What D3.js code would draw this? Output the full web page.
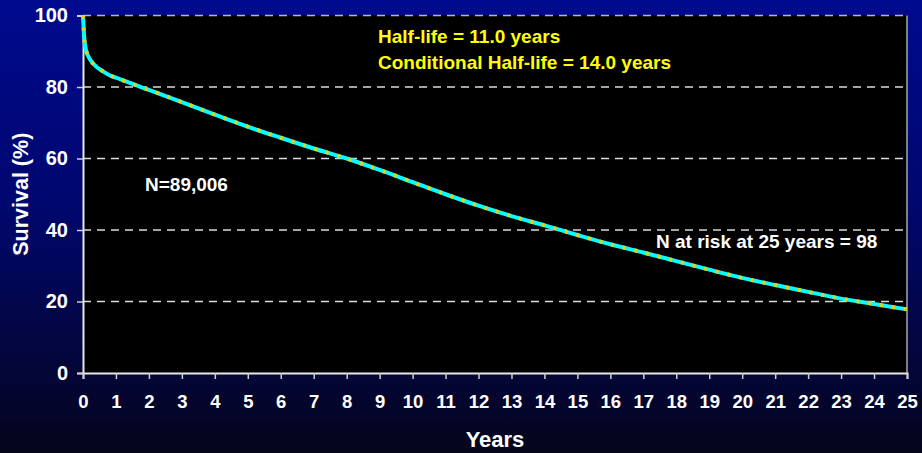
<!DOCTYPE html>
<html lang="en">
<head>
    <meta charset="UTF-8">
    <title>Survival</title>
    <script src="https://d3js.org/d3.v7.min.js"></script>
    <style>
        body { margin: 0; background: #000; }
        text { font-family: "Liberation Sans", Arial, sans-serif; font-weight: bold; }
    </style>
</head>
<body>
    <svg id="chart" width="922" height="453"></svg>
    <script>
        // Kaplan-Meier curve
        const years = [0, 0.04, 0.1, 0.15, 0.22, 0.4, 0.6, 0.82, 1, 1.4, 2, 3, 4, 5, 6, 7, 8, 9, 10, 11, 12, 13, 14, 15, 16, 17, 18, 19, 20, 21, 22, 23, 24, 25];
        const survival = [100, 93.5, 90, 88.8, 87.6, 85.7, 84.4, 83.2, 82.6, 81.2, 79.2, 75.8, 72.3, 68.9, 65.8, 62.8, 60.0, 56.8, 53.4, 50.0, 46.8, 43.9, 41.3, 38.6, 36.0, 33.7, 31.3, 28.9, 26.6, 24.6, 22.7, 20.8, 19.3, 17.8];
        const xTicks = d3.range(0, 26);
        const yTicks = [0, 20, 40, 60, 80, 100];
        const notes = ["Half-life = 11.0 years", "Conditional Half-life = 14.0 years"];

        const svg = d3.select("#chart");
        const W = 922, H = 453;
        const m = { left: 83, right: 15, top: 15.5, bottom: 80 };

        const defs = svg.append("defs");
        const grad = defs.append("linearGradient").attr("id", "bg")
            .attr("x1", 0).attr("y1", 0).attr("x2", 0).attr("y2", 1);
        grad.append("stop").attr("offset", 0).attr("stop-color", "#000a8e");
        grad.append("stop").attr("offset", 0.45).attr("stop-color", "#00076e");
        grad.append("stop").attr("offset", 1).attr("stop-color", "#05051c");
        svg.append("rect").attr("width", W).attr("height", H).attr("fill", "url(#bg)");

        const x = d3.scaleLinear().domain([0, 25]).range([m.left, W - m.right]);
        const y = d3.scaleLinear().domain([0, 100]).range([H - m.bottom, m.top]);

        // plot area
        svg.append("rect")
            .attr("x", x(0)).attr("y", y(100))
            .attr("width", x(25) - x(0)).attr("height", y(0) - y(100))
            .attr("fill", "#000");

        // dashed gridlines
        svg.append("g").selectAll("line")
            .data(yTicks.filter(d => d > 0))
            .join("line")
            .attr("x1", x(0)).attr("x2", x(25))
            .attr("y1", d => y(d)).attr("y2", d => y(d))
            .attr("stroke", d => d === 100 ? "#b8b8b8" : "#dcdcdc")
            .attr("stroke-width", 1.5)
            .attr("stroke-dasharray", "8,6");

        // right border
        svg.append("line")
            .attr("x1", x(25)).attr("x2", x(25))
            .attr("y1", y(100)).attr("y2", y(0))
            .attr("stroke", "#a8a8a8").attr("stroke-width", 1.5);

        // axes
        const yAxis = svg.append("g")
            .attr("transform", `translate(${x(0)},0)`)
            .call(d3.axisLeft(y).tickValues(yTicks).tickSize(6).tickPadding(9));
        const xAxis = svg.append("g")
            .attr("transform", `translate(0,${y(0)})`)
            .call(d3.axisBottom(x).tickValues(xTicks).tickSize(6).tickPadding(16));

        [yAxis, xAxis].forEach(g => {
            g.select(".domain").attr("stroke", "#e8e8e8").attr("stroke-width", 2);
            g.selectAll(".tick line").attr("stroke", "#cfcfcf").attr("stroke-width", 1.5);
            g.selectAll("text").attr("fill", "#fff").attr("font-family", "Liberation Sans, Arial, sans-serif")
                .attr("font-weight", "bold");
        });
        yAxis.selectAll("text").attr("font-size", 20);
        xAxis.selectAll("text").attr("font-size", 18.5);

        // survival curve
        const pts = years.map((t, i) => [t, survival[i]]);
        const line = d3.line().x(d => x(d[0])).y(d => y(d[1])).curve(d3.curveMonotoneX);
        svg.append("path").datum(pts).attr("d", line)
            .attr("fill", "none").attr("stroke", "#00ffff").attr("stroke-width", 4);
        svg.append("path").datum(pts).attr("d", line)
            .attr("fill", "none").attr("stroke", "#ffcc00").attr("stroke-width", 4)
            .attr("stroke-dasharray", "3,9").attr("opacity", 0.9);

        // annotations
        svg.selectAll(".note").data(notes).join("text")
            .attr("class", "note")
            .attr("x", 378).attr("y", (d, i) => 43 + i * 26)
            .attr("fill", "#ffff00").attr("font-size", 19)
            .text(d => d);
        svg.append("text").attr("x", 145).attr("y", 191)
            .attr("fill", "#fff").attr("font-size", 19).text("N=89,006");
        svg.append("text").attr("x", 656).attr("y", 248)
            .attr("fill", "#fff").attr("font-size", 19).text("N at risk at 25 years = 98");

        // axis titles
        svg.append("text").attr("x", (x(0) + x(25)) / 2).attr("y", 447)
            .attr("text-anchor", "middle").attr("fill", "#fff").attr("font-size", 22)
            .text("Years");
        svg.append("text")
            .attr("transform", `translate(28,${(y(0) + y(100)) / 2}) rotate(-90)`)
            .attr("text-anchor", "middle").attr("fill", "#fff").attr("font-size", 21.5)
            .text("Survival (%)");
    </script>
</body>
</html>
